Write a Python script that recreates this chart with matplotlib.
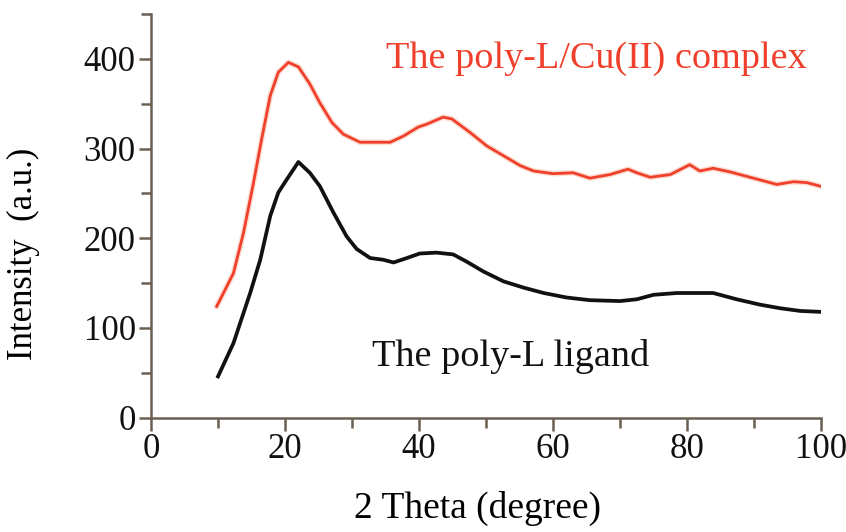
import numpy as np
import matplotlib.pyplot as plt
from matplotlib.ticker import MultipleLocator

# XRD patterns
x_cu = [9.8, 12.3, 13.8, 15.3, 16.5, 17.8, 19.0, 20.5, 22.0, 23.7, 25.2, 27.0,
        28.7, 31.2, 33.7, 35.7, 37.7, 39.9, 41.1, 43.6, 44.9, 47.6, 50.1, 52.6,
        55.1, 57.1, 60.0, 63.0, 65.5, 68.5, 71.2, 72.5, 74.5, 77.5, 80.4, 81.9,
        83.9, 86.4, 88.9, 91.4, 93.4, 95.9, 97.9, 99.9]
y_cu = [124, 161, 206, 262, 310, 359, 385, 396, 391, 372, 351, 329,
        316, 307, 307, 307, 314, 324, 327, 335, 333, 318, 303, 292,
        281, 275, 272, 273, 267, 271, 277, 273, 268, 271, 282, 275,
        278, 274, 269, 264, 260, 263, 262, 258]

x_l = [10.0, 12.3, 14.8, 16.3, 17.8, 19.0, 20.3, 22.0, 23.7, 25.2, 27.2, 29.2,
       30.7, 32.7, 34.7, 36.2, 38.2, 40.1, 42.6, 45.1, 47.1, 49.6, 52.6, 55.6,
       58.6, 62.0, 65.5, 70.0, 72.5, 75.0, 78.5, 83.9, 87.4, 90.9, 93.9, 96.9,
       99.9]
y_l = [46, 83, 139, 176, 225, 251, 266, 285, 273, 258, 229, 202,
       188, 178, 176, 173, 178, 183, 184, 182, 174, 163, 152, 145,
       139, 134, 131, 130, 132, 137, 139, 139, 132, 126, 122, 119,
       118]

plt.rcParams['font.family'] = 'Liberation Serif'
axis_col = '#6b5f52'
red = '#f0402c'

fig = plt.figure(figsize=(8.46, 5.32), dpi=100)
ax = fig.add_axes([0.1785, 0.2148, 0.792, 0.759])

ax.plot(x_cu, y_cu, color='#f79a7a', lw=4.0, alpha=0.35, solid_capstyle='round')
ax.plot(x_cu, y_cu, color=red, lw=2.0)
ax.plot(x_l, y_l, color='#111111', lw=2.7, solid_joinstyle='round')

ax.set_xlim(0, 100)
ax.set_ylim(0, 450)
ax.xaxis.set_major_locator(MultipleLocator(20))
ax.xaxis.set_minor_locator(MultipleLocator(10))
ax.yaxis.set_major_locator(MultipleLocator(100))
ax.yaxis.set_minor_locator(MultipleLocator(50))
for s in ['top', 'right']:
    ax.spines[s].set_visible(False)
for s in ['left', 'bottom']:
    ax.spines[s].set_color(axis_col)
    ax.spines[s].set_linewidth(1.8)
ax.tick_params(which='both', color=axis_col, width=1.8, labelsize=25,
               labelcolor='#111111')
ax.tick_params(which='major', length=9, pad=2)
ax.tick_params(which='minor', length=7)

ax.set_xlabel('2 Theta (degree)', fontsize=27)
ax.xaxis.set_label_coords(0.487, -0.18)
ax.set_ylabel('Intensity  (a.u.)', fontsize=25)
ax.yaxis.set_label_coords(-0.165, 0.405)

ax.text(35, 400, 'The poly-L/Cu(II) complex', color=red, fontsize=27.5,
        va='center', ha='left')
ax.text(33, 68, 'The poly-L ligand', color='#111111', fontsize=27.5,
        va='center', ha='left')

plt.savefig('out.png', dpi=100)
